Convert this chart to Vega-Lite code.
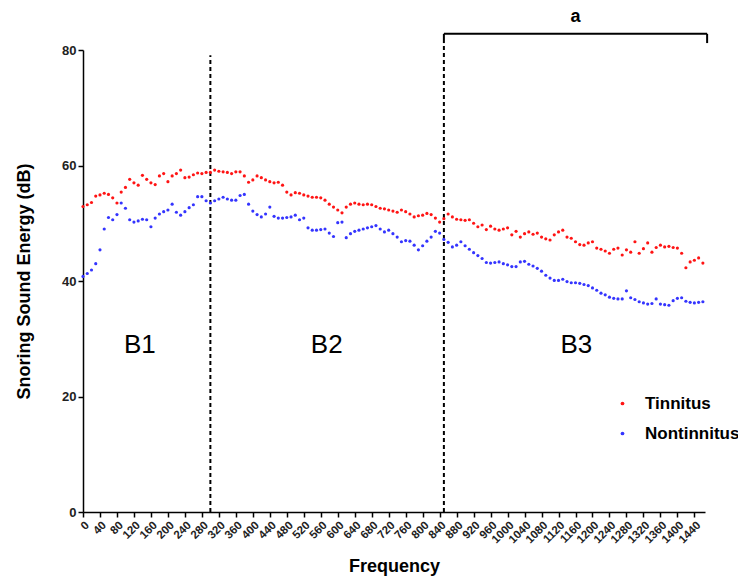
{
  "$schema": "https://vega.github.io/schema/vega-lite/v6.json",
  "width": 622,
  "height": 462,
  "autosize": {"type": "none"},
  "padding": {"left": 83, "top": 50, "right": 33, "bottom": 66},
  "background": "white",
  "config": {
    "view": {"stroke": null},
    "font": "Liberation Sans",
    "axis": {
      "domainColor": "#000000",
      "domainWidth": 1.5,
      "tickColor": "#000000",
      "tickWidth": 1.5,
      "tickSize": 5,
      "grid": false,
      "labelFont": "Liberation Sans",
      "labelFontWeight": "bold",
      "labelColor": "#222222",
      "titleFont": "Liberation Sans",
      "titleFontWeight": "bold",
      "titleColor": "#000000"
    }
  },
  "datasets": {
    "tin": [
      {"f":0,"v":52.9},{"f":10,"v":53.2},{"f":20,"v":53.6},{"f":30,"v":54.7},{"f":40,"v":54.9},{"f":50,"v":55.2},{"f":60,"v":55.0},{"f":70,"v":54.4},{"f":80,"v":53.5},{"f":90,"v":55.4},
      {"f":100,"v":56.2},{"f":110,"v":57.6},{"f":120,"v":57.0},{"f":130,"v":56.6},{"f":140,"v":58.3},{"f":150,"v":57.6},{"f":160,"v":57.0},{"f":170,"v":56.7},{"f":180,"v":58.2},{"f":190,"v":58.6},
      {"f":200,"v":57.2},{"f":210,"v":58.2},{"f":220,"v":58.6},{"f":230,"v":59.2},{"f":240,"v":57.9},{"f":250,"v":58.0},{"f":260,"v":58.4},{"f":270,"v":58.7},{"f":280,"v":58.6},{"f":290,"v":58.8},
      {"f":300,"v":58.8},{"f":310,"v":59.2},{"f":320,"v":59.0},{"f":330,"v":58.9},{"f":340,"v":58.8},{"f":350,"v":58.6},{"f":360,"v":58.9},{"f":370,"v":58.9},{"f":380,"v":58.2},{"f":390,"v":57.1},
      {"f":400,"v":57.5},{"f":410,"v":58.2},{"f":420,"v":57.9},{"f":430,"v":57.5},{"f":440,"v":57.2},{"f":450,"v":57.0},{"f":460,"v":57.1},{"f":470,"v":56.6},{"f":480,"v":55.4},{"f":490,"v":54.9},
      {"f":500,"v":55.3},{"f":510,"v":55.2},{"f":520,"v":54.9},{"f":530,"v":54.7},{"f":540,"v":54.5},{"f":550,"v":54.5},{"f":560,"v":54.4},{"f":570,"v":54.0},{"f":580,"v":53.3},{"f":590,"v":52.8},
      {"f":600,"v":52.3},{"f":610,"v":51.8},{"f":620,"v":52.8},{"f":630,"v":53.3},{"f":640,"v":53.5},{"f":650,"v":53.3},{"f":660,"v":53.2},{"f":670,"v":53.3},{"f":680,"v":53.2},{"f":690,"v":52.9},
      {"f":700,"v":52.6},{"f":710,"v":52.5},{"f":720,"v":52.3},{"f":730,"v":52.1},{"f":740,"v":51.9},{"f":750,"v":52.3},{"f":760,"v":52.0},{"f":770,"v":51.6},{"f":780,"v":51.1},{"f":790,"v":51.3},
      {"f":800,"v":51.4},{"f":810,"v":51.7},{"f":820,"v":51.5},{"f":830,"v":50.9},{"f":840,"v":50.2},{"f":850,"v":50.8},{"f":860,"v":51.6},{"f":870,"v":51.1},{"f":880,"v":50.7},{"f":890,"v":50.6},
      {"f":900,"v":50.5},{"f":910,"v":50.6},{"f":920,"v":50.0},{"f":930,"v":49.4},{"f":940,"v":49.7},{"f":950,"v":48.9},{"f":960,"v":49.5},{"f":970,"v":49.0},{"f":980,"v":48.8},{"f":990,"v":49.0},
      {"f":1000,"v":49.2},{"f":1010,"v":48.0},{"f":1020,"v":48.6},{"f":1030,"v":47.6},{"f":1040,"v":48.2},{"f":1050,"v":48.5},{"f":1060,"v":48.1},{"f":1070,"v":48.3},{"f":1080,"v":47.6},{"f":1090,"v":47.3},
      {"f":1100,"v":47.1},{"f":1110,"v":48.0},{"f":1120,"v":48.5},{"f":1130,"v":48.8},{"f":1140,"v":47.6},{"f":1150,"v":47.4},{"f":1160,"v":46.8},{"f":1170,"v":46.3},{"f":1180,"v":46.2},{"f":1190,"v":46.6},
      {"f":1200,"v":46.8},{"f":1210,"v":45.7},{"f":1220,"v":45.5},{"f":1230,"v":45.2},{"f":1240,"v":44.8},{"f":1250,"v":45.5},{"f":1260,"v":45.7},{"f":1270,"v":44.5},{"f":1280,"v":45.4},{"f":1290,"v":45.0},
      {"f":1300,"v":46.8},{"f":1310,"v":44.8},{"f":1320,"v":45.6},{"f":1330,"v":46.6},{"f":1340,"v":45.0},{"f":1350,"v":45.8},{"f":1360,"v":46.2},{"f":1370,"v":45.9},{"f":1380,"v":46.0},{"f":1390,"v":45.8},
      {"f":1400,"v":45.7},{"f":1410,"v":44.8},{"f":1420,"v":42.3},{"f":1430,"v":43.3},{"f":1440,"v":43.6},{"f":1450,"v":44.0},{"f":1460,"v":43.1}
    ],
    "non": [
      {"f":0,"v":40.8},{"f":10,"v":41.3},{"f":20,"v":41.9},{"f":30,"v":43.0},{"f":40,"v":45.4},{"f":50,"v":49.0},{"f":60,"v":51.0},{"f":70,"v":50.6},{"f":80,"v":51.5},{"f":90,"v":53.5},
      {"f":100,"v":52.6},{"f":110,"v":50.6},{"f":120,"v":50.2},{"f":130,"v":50.4},{"f":140,"v":50.7},{"f":150,"v":50.6},{"f":160,"v":49.4},{"f":170,"v":50.9},{"f":180,"v":51.6},{"f":190,"v":52.0},
      {"f":200,"v":52.3},{"f":210,"v":53.3},{"f":220,"v":51.9},{"f":230,"v":51.4},{"f":240,"v":52.0},{"f":250,"v":52.7},{"f":260,"v":53.2},{"f":270,"v":54.6},{"f":280,"v":54.6},{"f":290,"v":53.9},
      {"f":300,"v":53.5},{"f":310,"v":53.9},{"f":320,"v":54.2},{"f":330,"v":54.5},{"f":340,"v":54.2},{"f":350,"v":54.0},{"f":360,"v":54.0},{"f":370,"v":54.8},{"f":380,"v":55.0},{"f":390,"v":53.3},
      {"f":400,"v":52.1},{"f":410,"v":51.5},{"f":420,"v":51.1},{"f":430,"v":51.6},{"f":440,"v":52.8},{"f":450,"v":51.2},{"f":460,"v":50.9},{"f":470,"v":50.9},{"f":480,"v":51.0},{"f":490,"v":51.1},
      {"f":500,"v":51.4},{"f":510,"v":50.6},{"f":520,"v":50.9},{"f":530,"v":49.2},{"f":540,"v":48.8},{"f":550,"v":48.8},{"f":560,"v":48.9},{"f":570,"v":49.0},{"f":580,"v":48.3},{"f":590,"v":47.7},
      {"f":600,"v":50.1},{"f":610,"v":50.2},{"f":620,"v":47.5},{"f":630,"v":48.2},{"f":640,"v":48.6},{"f":650,"v":48.8},{"f":660,"v":49.0},{"f":670,"v":49.2},{"f":680,"v":49.4},{"f":690,"v":49.6},
      {"f":700,"v":49.0},{"f":710,"v":48.5},{"f":720,"v":48.8},{"f":730,"v":48.2},{"f":740,"v":47.6},{"f":750,"v":46.8},{"f":760,"v":47.0},{"f":770,"v":46.9},{"f":780,"v":46.2},{"f":790,"v":45.4},
      {"f":800,"v":46.1},{"f":810,"v":46.9},{"f":820,"v":47.6},{"f":830,"v":48.6},{"f":840,"v":48.3},{"f":850,"v":47.2},{"f":860,"v":46.7},{"f":870,"v":45.9},{"f":880,"v":46.2},{"f":890,"v":46.8},
      {"f":900,"v":46.1},{"f":910,"v":45.5},{"f":920,"v":44.9},{"f":930,"v":44.4},{"f":940,"v":43.9},{"f":950,"v":43.2},{"f":960,"v":43.1},{"f":970,"v":43.2},{"f":980,"v":43.3},{"f":990,"v":43.0},
      {"f":1000,"v":42.8},{"f":1010,"v":42.5},{"f":1020,"v":42.5},{"f":1030,"v":43.3},{"f":1040,"v":43.4},{"f":1050,"v":42.9},{"f":1060,"v":42.6},{"f":1070,"v":42.2},{"f":1080,"v":41.7},{"f":1090,"v":41.0},
      {"f":1100,"v":40.5},{"f":1110,"v":40.1},{"f":1120,"v":40.1},{"f":1130,"v":40.3},{"f":1140,"v":39.9},{"f":1150,"v":39.7},{"f":1160,"v":39.7},{"f":1170,"v":39.6},{"f":1180,"v":39.4},{"f":1190,"v":39.2},
      {"f":1200,"v":38.8},{"f":1210,"v":38.4},{"f":1220,"v":37.9},{"f":1230,"v":37.6},{"f":1240,"v":37.2},{"f":1250,"v":37.0},{"f":1260,"v":36.9},{"f":1270,"v":36.9},{"f":1280,"v":38.3},{"f":1290,"v":37.1},
      {"f":1300,"v":36.8},{"f":1310,"v":36.4},{"f":1320,"v":36.2},{"f":1330,"v":36.0},{"f":1340,"v":36.1},{"f":1350,"v":36.9},{"f":1360,"v":36.0},{"f":1370,"v":35.9},{"f":1380,"v":35.8},{"f":1390,"v":36.6},
      {"f":1400,"v":37.0},{"f":1410,"v":37.1},{"f":1420,"v":36.5},{"f":1430,"v":36.3},{"f":1440,"v":36.2},{"f":1450,"v":36.3},{"f":1460,"v":36.4}
    ],
    "dividers": [
      {"f":300,"y0":0,"y1":79.1},
      {"f":850,"y0":0,"y1":80.9}
    ],
    "bands": [
      {"f":134,"v":28.9,"label":"B1"},
      {"f":574,"v":28.9,"label":"B2"},
      {"f":1162,"v":28.9,"label":"B3"}
    ],
    "bracketTop": [{"f0":850,"f1":1470,"v":82.8}],
    "bracketEnds": [{"f":850,"y0":81.2,"y1":82.8},{"f":1470,"y0":81.2,"y1":82.8}],
    "bracketLabel": [{"f":1160,"v":85.7,"label":"a"}]
  },
  "layer": [
    {
      "data": {"name": "dividers"},
      "mark": {"type": "rule", "color": "#000000", "strokeWidth": 2, "strokeDash": [4, 3]},
      "encoding": {
        "x": {
          "field": "f", "type": "quantitative",
          "scale": {"domain": [0, 1465], "nice": false, "zero": false},
          "axis": {
            "title": "Frequency",
            "values": [0,40,80,120,160,200,240,280,320,360,400,440,480,520,560,600,640,680,720,760,800,840,880,920,960,1000,1040,1080,1120,1160,1200,1240,1280,1320,1360,1400,1440],
            "tickCount": 60,
            "format": "d",
            "labelAngle": -45,
            "labelFontSize": 11.5,
            "labelPadding": 2,
            "titleFontSize": 18,
            "titlePadding": 12,
            "labelOverlap": false,
            "labelFlush": false,
            "labelBound": false
          }
        },
        "y": {
          "field": "y0", "type": "quantitative",
          "scale": {"domain": [0, 80], "nice": false},
          "axis": {
            "title": "Snoring Sound Energy (dB)",
            "values": [0, 20, 40, 60, 80],
            "labelFontSize": 13,
            "labelPadding": 2,
            "titleFontSize": 18,
            "titlePadding": 28
          }
        },
        "y2": {"field": "y1"}
      }
    },
    {
      "data": {"name": "tin"},
      "mark": {"type": "point", "shape": "circle", "filled": true, "size": 10, "opacity": 1},
      "encoding": {
        "x": {"field": "f", "type": "quantitative"},
        "y": {"field": "v", "type": "quantitative"},
        "color": {
          "datum": "Tinnitus",
          "type": "nominal",
          "scale": {"domain": ["Tinnitus", "Nontinnitus"], "range": ["#ff1414", "#3434ff"]},
          "legend": {
            "title": null,
            "orient": "none",
            "legendX": 531,
            "legendY": 345,
            "symbolType": "circle",
            "symbolSize": 14,
            "symbolStrokeWidth": 0,
            "labelFontSize": 17,
            "labelFontWeight": "bold",
            "labelFont": "Liberation Sans",
            "labelColor": "#000000",
            "labelOffset": 14,
            "rowPadding": 12,
            "padding": 0
          }
        }
      }
    },
    {
      "data": {"name": "non"},
      "mark": {"type": "point", "shape": "circle", "filled": true, "size": 10, "opacity": 1},
      "encoding": {
        "x": {"field": "f", "type": "quantitative"},
        "y": {"field": "v", "type": "quantitative"},
        "color": {"datum": "Nontinnitus", "type": "nominal"}
      }
    },
    {
      "data": {"name": "bands"},
      "mark": {"type": "text", "fontSize": 26, "font": "Liberation Sans", "color": "#000000", "align": "center", "baseline": "middle"},
      "encoding": {
        "x": {"field": "f", "type": "quantitative"},
        "y": {"field": "v", "type": "quantitative"},
        "text": {"field": "label"}
      }
    },
    {
      "data": {"name": "bracketTop"},
      "mark": {"type": "rule", "color": "#000000", "strokeWidth": 2},
      "encoding": {
        "x": {"field": "f0", "type": "quantitative"},
        "x2": {"field": "f1"},
        "y": {"field": "v", "type": "quantitative"}
      }
    },
    {
      "data": {"name": "bracketEnds"},
      "mark": {"type": "rule", "color": "#000000", "strokeWidth": 2},
      "encoding": {
        "x": {"field": "f", "type": "quantitative"},
        "y": {"field": "y0", "type": "quantitative"},
        "y2": {"field": "y1"}
      }
    },
    {
      "data": {"name": "bracketLabel"},
      "mark": {"type": "text", "fontSize": 18, "fontWeight": "bold", "font": "Liberation Sans", "color": "#000000", "align": "center", "baseline": "middle"},
      "encoding": {
        "x": {"field": "f", "type": "quantitative"},
        "y": {"field": "v", "type": "quantitative"},
        "text": {"field": "label"}
      }
    }
  ]
}
